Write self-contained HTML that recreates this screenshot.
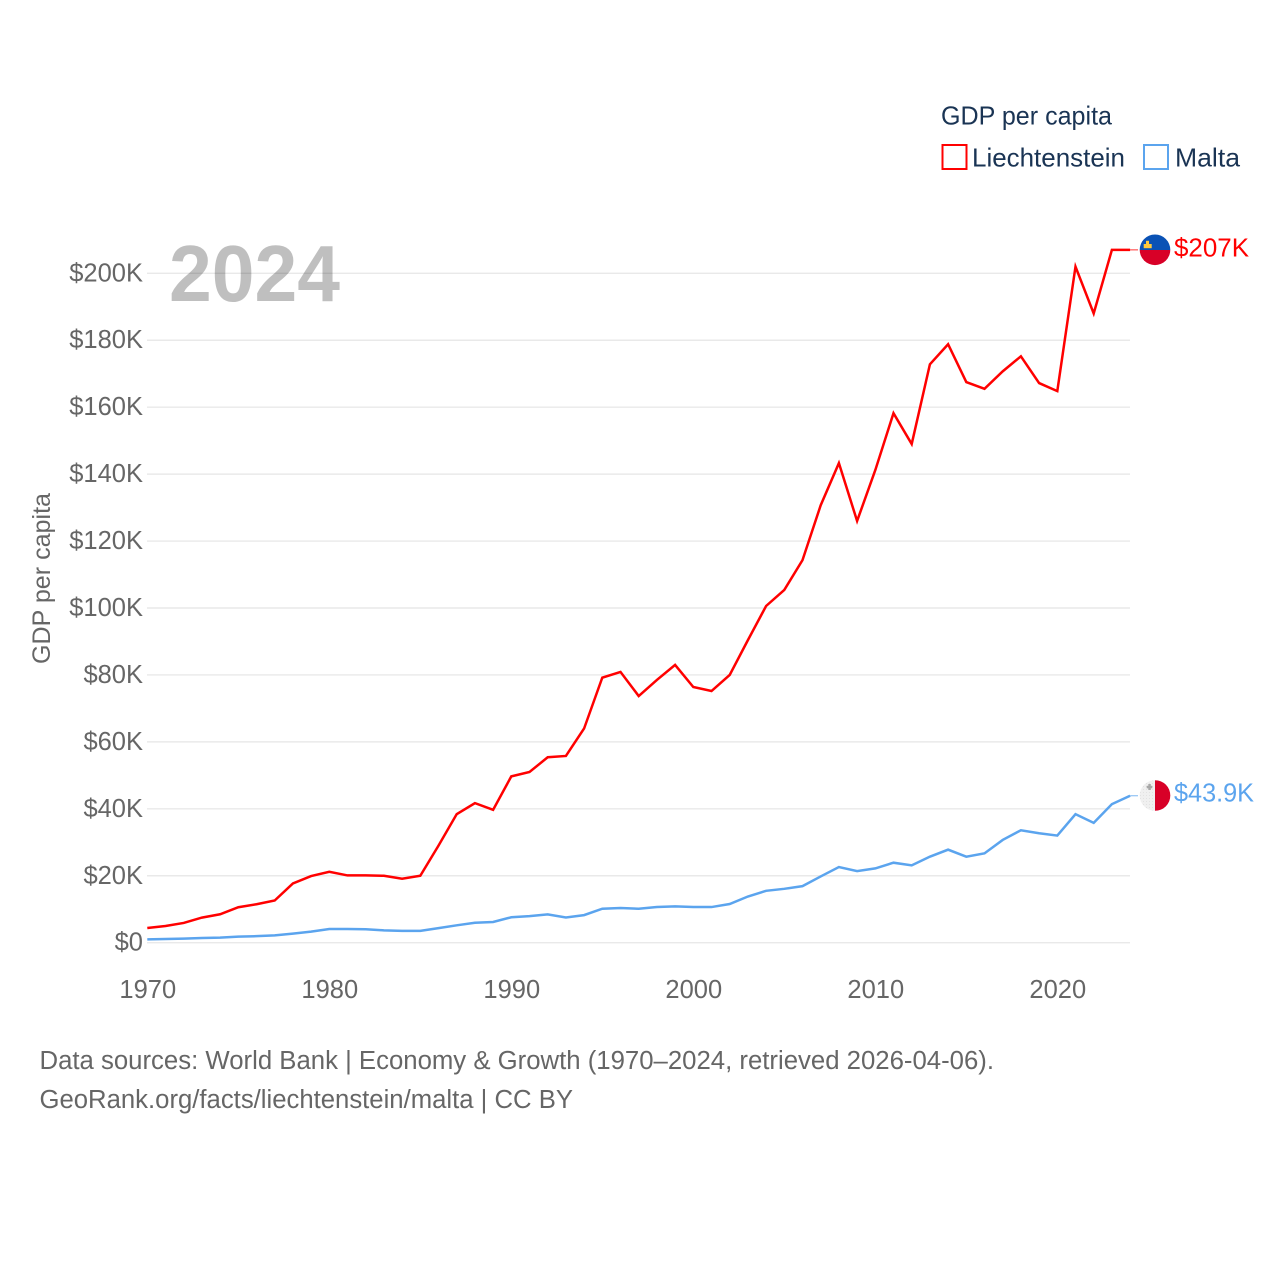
<!DOCTYPE html>
<html lang="en">
<head>
<meta charset="utf-8">
<title>GDP per capita: Liechtenstein and Malta</title>
<style>
html,body{margin:0;padding:0;background:#fff;}
svg{display:block;}
text{font-family:"Liberation Sans",sans-serif;}
</style>
</head>
<body>
<svg id="chart" xmlns="http://www.w3.org/2000/svg" width="1280" height="1280" viewBox="0 0 1280 1280">
  <rect width="1280" height="1280" fill="#fff"/>
  <g id="grid"></g>
  <g id="yticks"></g>
  <g id="xticks"></g>
  <text x="169" y="301" font-size="80" font-weight="700" fill="#000" fill-opacity="0.25" textLength="171" lengthAdjust="spacingAndGlyphs">2024</text>
  <text transform="translate(50,664) rotate(-90)" font-size="25" fill="#666" textLength="171" lengthAdjust="spacingAndGlyphs">GDP per capita</text>
  <g id="series"></g>

  <g>
    <text x="941" y="124.5" font-size="26" fill="#1a3454" textLength="171" lengthAdjust="spacingAndGlyphs">GDP per capita</text>
    <rect x="942.5" y="145" width="24" height="24" fill="none" stroke="#ff0000" stroke-width="2"/>
    <text x="972" y="166.5" font-size="26" fill="#1a3454" textLength="153" lengthAdjust="spacingAndGlyphs">Liechtenstein</text>
    <rect x="1144" y="145" width="24" height="24" fill="none" stroke="#5ba4ee" stroke-width="2"/>
    <text x="1175" y="166.5" font-size="26" fill="#1a3454" textLength="65" lengthAdjust="spacingAndGlyphs">Malta</text>
  </g>

  <defs>
    <clipPath id="li-clip"><circle cx="1155" cy="249.8" r="15.3"/></clipPath>
    <clipPath id="mt-clip"><circle cx="1155" cy="795.5" r="15.3"/></clipPath>
    <pattern id="mt-dots" width="3" height="3" patternUnits="userSpaceOnUse"><rect width="3" height="3" fill="#f0f0f0"/><rect width="1" height="1" fill="#e2e2e2"/></pattern>
  </defs>
  <g clip-path="url(#li-clip)">
    <rect x="1139" y="234" width="32" height="16" fill="#0a52b5"/>
    <rect x="1139" y="250" width="32" height="16" fill="#d80027"/>
    <rect x="1143.7" y="244" width="8" height="4.2" fill="#ffc93c"/>
    <rect x="1146" y="240.8" width="3" height="3.5" fill="#ffc93c"/>
  </g>
  <g clip-path="url(#mt-clip)">
    <rect x="1139" y="780" width="16" height="31" fill="url(#mt-dots)"/>
    <rect x="1155" y="780" width="16" height="31" fill="#d80027"/>
    <rect x="1146.7" y="785.8" width="5.6" height="2.5" fill="#a8a8a8"/>
    <rect x="1148.3" y="784" width="2.5" height="6" fill="#a8a8a8"/>
  </g>
  <text x="1174" y="256.5" font-size="25.5" fill="#ff0000" textLength="75" lengthAdjust="spacingAndGlyphs">$207K</text>
  <text x="1174" y="801.5" font-size="25.5" fill="#5ba4ee" textLength="80" lengthAdjust="spacingAndGlyphs">$43.9K</text>

  <g>
    <text x="39.5" y="1069" font-size="25.5" fill="#666" textLength="954.5" lengthAdjust="spacingAndGlyphs">Data sources: World Bank | Economy &amp; Growth (1970–2024, retrieved 2026-04-06).</text>
    <text x="39.5" y="1108" font-size="25.5" fill="#666" textLength="533.5" lengthAdjust="spacingAndGlyphs">GeoRank.org/facts/liechtenstein/malta | CC BY</text>
  </g>
</svg>
<script>
const startYear = 1970;
const liechtensteinValues = [4.4,5.0,5.9,7.5,8.5,10.6,11.5,12.6,17.7,19.9,21.2,20.1,20.1,20.0,19.1,20.0,29.0,38.4,41.7,39.7,49.7,51.0,55.4,55.8,64.0,79.2,80.9,73.7,78.5,83.0,76.4,75.2,80.0,90.4,100.6,105.4,114.3,130.7,143.3,126.0,141.2,158.2,149.0,172.8,178.8,167.5,165.5,170.7,175.2,167.2,164.8,202.0,188.0,207.0,207.0];
const maltaValues = [1.0,1.1,1.2,1.4,1.5,1.8,1.95,2.2,2.7,3.3,4.1,4.1,4.0,3.7,3.55,3.55,4.35,5.2,5.95,6.2,7.6,7.95,8.45,7.55,8.25,10.15,10.35,10.15,10.65,10.85,10.65,10.65,11.55,13.8,15.5,16.1,16.9,19.8,22.6,21.4,22.2,23.9,23.1,25.7,27.8,25.7,26.7,30.7,33.6,32.7,32.0,38.4,35.8,41.4,43.9];
const yTickValues = [0,20,40,60,80,100,120,140,160,180,200];
const yTickLabels = ["$0","$20K","$40K","$60K","$80K","$100K","$120K","$140K","$160K","$180K","$200K"];
const xTickValues = [1970,1980,1990,2000,2010,2020];

const NS = "http://www.w3.org/2000/svg";
function xScale(year) { return 147.3 + (year - 1970) * 18.2; }
function yScale(value) { return 942.7 - value * 3.347; }
function make(tag, parent, props, content) {
  const el = document.createElementNS(NS, tag);
  for (const k in props) el.setAttribute(k, props[k]);
  if (content !== undefined) el.textContent = content;
  parent.appendChild(el);
  return el;
}

const gridGroup = document.getElementById("grid");
const yGroup = document.getElementById("yticks");
const xGroup = document.getElementById("xticks");
const seriesGroup = document.getElementById("series");

yTickValues.forEach(function (v, i) {
  const y = yScale(v);
  const line = make("line", gridGroup, {x1: 147, x2: 1130, y1: y, y2: y, stroke: "#e9e9e9", "stroke-width": 1.4});
  
  
  const label = make("text", yGroup, {x: 143, y: y + 8, "text-anchor": "end", "font-size": 25.5, fill: "#666"}, yTickLabels[i]);
  
  
});

xTickValues.forEach(function (v) {
  const label = make("text", xGroup, {x: xScale(v) + 0.5, y: 998, "text-anchor": "middle", "font-size": 25.5, fill: "#666"}, String(v));
  
  
});

function pathFor(values) {
  return values.map(function (v, i) {
    return (i ? "L" : "M") + xScale(startYear + i).toFixed(2) + " " + yScale(v).toFixed(2);
  }).join(" ");
}
function lastPoint(values) {
  return { x: xScale(startYear + values.length - 1), y: yScale(values[values.length - 1]) };
}

const redLine = make("path", seriesGroup, {d: pathFor(liechtensteinValues), fill: "none", stroke: "#ff0000", "stroke-width": 2.5, "stroke-linejoin": "miter"});


const blueLine = make("path", seriesGroup, {d: pathFor(maltaValues), fill: "none", stroke: "#5ba4ee", "stroke-width": 2.5, "stroke-linejoin": "miter"});



const redEnd = lastPoint(liechtensteinValues);
const redLeader = make("line", seriesGroup, {x1: redEnd.x, x2: 1138, y1: redEnd.y, y2: redEnd.y, stroke: "#ff0000", "stroke-width": 1, opacity: 0.8});


const blueEnd = lastPoint(maltaValues);
const blueLeader = make("line", seriesGroup, {x1: blueEnd.x, x2: 1138, y1: blueEnd.y, y2: blueEnd.y, stroke: "#5ba4ee", "stroke-width": 1, opacity: 0.8});


</script>
</body>
</html>
